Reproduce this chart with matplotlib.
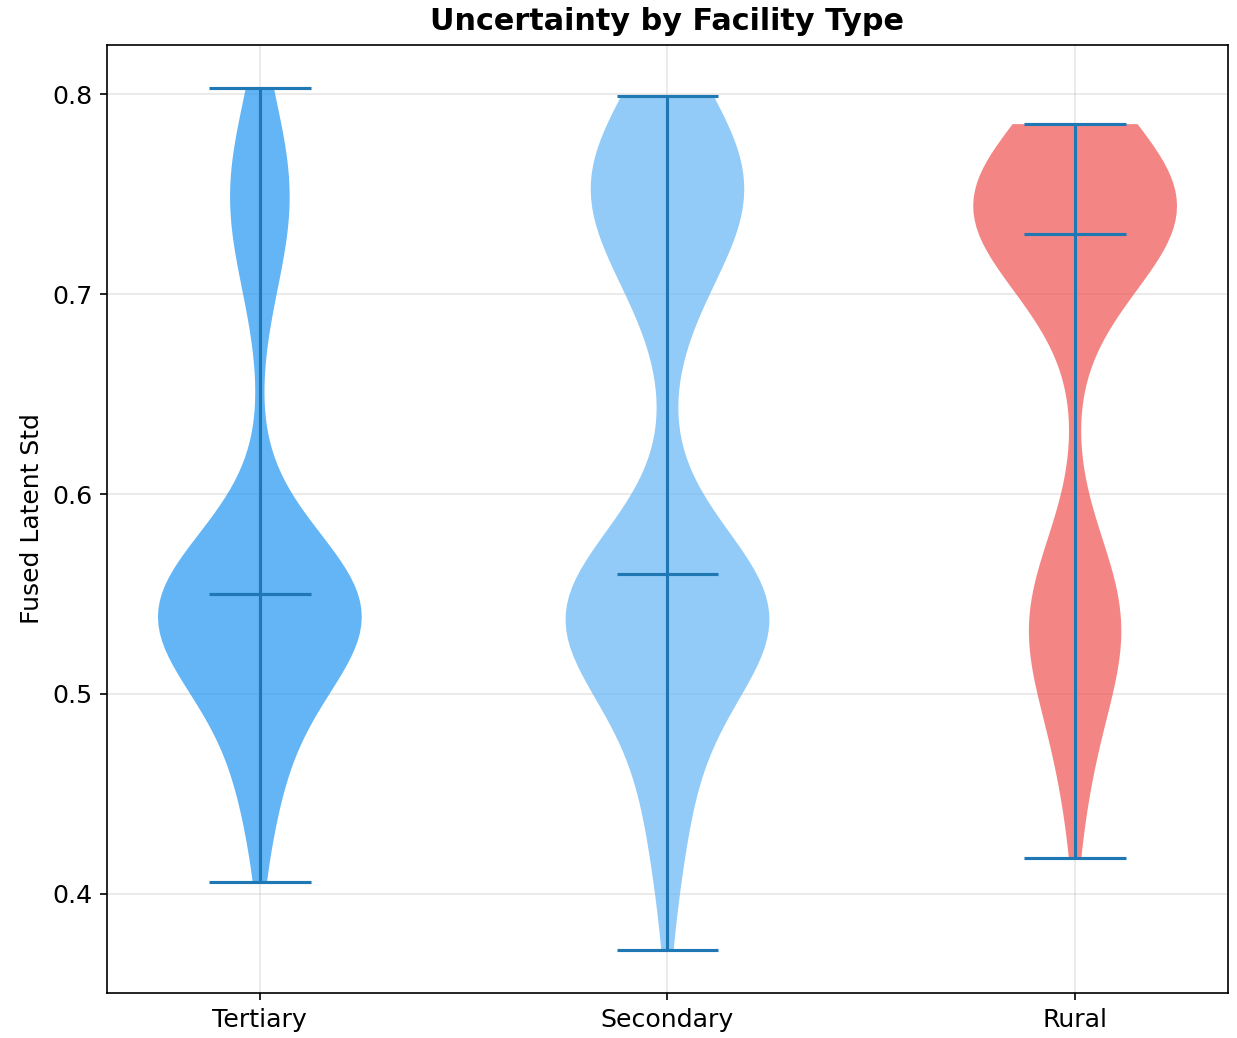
import numpy as np
import matplotlib
matplotlib.use("Agg")
import matplotlib.pyplot as plt

# facility groups shown on the x axis
facilities = ["Tertiary", "Secondary", "Rural"]
colors = ["#2196F3", "#64B5F6", "#EF5350"]

# fused latent std values (rounded) and how many samples share each value
tertiary_vals = [0.406, 0.41, 0.42, 0.43, 0.44, 0.45, 0.46, 0.47, 0.48, 0.49,
                 0.50, 0.51, 0.52, 0.53, 0.54, 0.55, 0.56, 0.57, 0.58, 0.59,
                 0.60, 0.68, 0.69, 0.70, 0.71, 0.72, 0.73, 0.74,
                 0.75, 0.76, 0.77, 0.78, 0.79, 0.80, 0.803]
tertiary_cnt = [1, 1, 1, 2, 4, 5, 5, 6, 6, 6,
                9, 15, 23, 30, 31, 30, 23, 15, 9, 4,
                2, 1, 2, 3, 4, 5, 7, 8,
                8, 8, 6, 5, 4, 3, 1]

secondary_vals = [0.372, 0.38, 0.39, 0.40, 0.41, 0.42, 0.43, 0.44, 0.45, 0.46,
                  0.47, 0.48, 0.49, 0.50, 0.51, 0.52, 0.53, 0.54, 0.55, 0.56,
                  0.57, 0.58, 0.59, 0.60, 0.67, 0.68, 0.69, 0.70, 0.71, 0.72,
                  0.73, 0.74, 0.75, 0.76, 0.77, 0.78, 0.79, 0.799]
secondary_cnt = [1, 1, 1, 2, 2, 3, 4, 4, 5, 5,
                 5, 5, 5, 7, 12, 21, 30, 33, 30, 21,
                 12, 5, 2, 1, 1, 2, 3, 5, 8, 11,
                 15, 18, 19, 19, 18, 15, 11, 7]

rural_vals = [0.418, 0.43, 0.44, 0.45, 0.46, 0.47, 0.48, 0.49, 0.50, 0.51,
              0.52, 0.53, 0.54, 0.55, 0.56, 0.57, 0.58, 0.59, 0.68,
              0.69, 0.70, 0.71, 0.72, 0.73, 0.74, 0.75, 0.76, 0.77,
              0.78, 0.785]
rural_cnt = [1, 1, 2, 3, 3, 4, 4, 5, 6, 9,
             12, 14, 14, 12, 9, 6, 4, 1, 1,
             3, 7, 13, 21, 28, 33, 33, 28, 21,
             13, 4]

data = [np.repeat(tertiary_vals, tertiary_cnt),
        np.repeat(secondary_vals, secondary_cnt),
        np.repeat(rural_vals, rural_cnt)]

fig = plt.figure(figsize=(1237 / 150, 1038 / 150), dpi=150)
ax = fig.add_axes([0.0865, 0.0434, 0.9062, 0.9132])

parts = ax.violinplot(data, positions=[1, 2, 3], showmedians=True)
for body, c in zip(parts["bodies"], colors):
    body.set_facecolor(c)
    body.set_edgecolor("none")
    body.set_alpha(0.7)

ax.set_xticks([1, 2, 3])
ax.set_xticklabels(facilities)
ax.tick_params(labelsize=12.1)
ax.set_ylabel("Fused Latent Std", fontsize=12)
ax.set_title("Uncertainty by Facility Type", fontsize=14.5, fontweight="bold", pad=7)
ax.grid(True, alpha=0.3)
ax.set_axisbelow(True)

fig.savefig("out.png", dpi=150)
